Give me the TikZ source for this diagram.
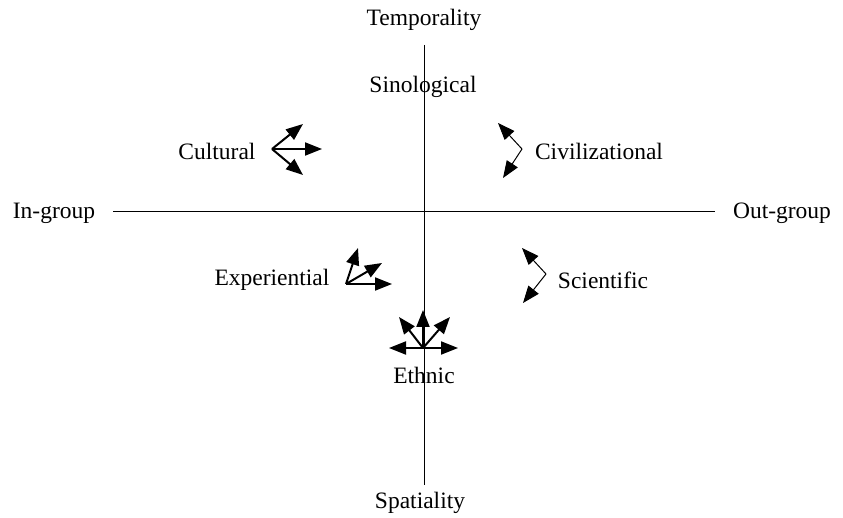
\documentclass[tikz,border=0pt]{standalone}
\usepackage{fontspec}
\setmainfont{Liberation Serif}
\usepackage{tikz}
\usetikzlibrary{arrows.meta}

\begin{document}
\begin{tikzpicture}[
  x=1pt, y=-1pt,
  font=\fontsize{23.5}{27}\selectfont,
  lbl/.style={inner sep=0pt, anchor=center},
  axis/.style={line width=0.9pt},
  vec/.style={-{Triangle[length=17pt,width=13pt]}, line width=2pt},
  thinvec/.style={-{Triangle[length=17pt,width=13pt]}, line width=1pt}
]
\useasboundingbox (0,0) rectangle (843,518);

% axes
\node[lbl] (temp) at (424,20) {Temporality};
\node[lbl] (spat) at (420,503) {Spatiality};
\node[lbl] (ingr) at (54,213) {In-group};
\node[lbl] (outgr) at (782,213) {Out-group};
\coordinate (top) at (424,45);
\coordinate (bot) at (424,485);
\coordinate (lft) at (113,211);
\coordinate (rgt) at (715,211);
\draw[axis] (top) -- (bot);
\draw[axis] (lft) -- (rgt);

% quadrant labels
\node[lbl] (sino) at (423,87) {Sinological};
\node[lbl] (cult) at (217,151) {Cultural};
\node[lbl] (civ) at (599,151) {Civilizational};
\node[lbl] (exper) at (272,280) {Experiential};
\node[lbl] (sci) at (603,280) {Scientific};
\node[lbl] (eth) at (424,375) {Ethnic};

% arrow origins
\coordinate (cultO) at (272,149);
\coordinate (civO) at (522,149);
\coordinate (experO) at (346,284);
\coordinate (ethO) at (423,348);
\coordinate (sciO) at (546,274);

\draw[vec] (cultO) -- ++(31,-25);
\draw[vec] (cultO) -- ++(50,0);
\draw[vec] (cultO) -- ++(31,26);

\draw[thinvec] (civO) -- ++(-24,-26);
\draw[thinvec] (civO) -- ++(-19,29);

\draw[vec] (experO) -- ++(12,-36);
\draw[vec] (experO) -- ++(36,-21);
\draw[vec] (experO) -- ++(46,0);

\draw[vec] (ethO) -- ++(-34,0);
\draw[vec] (ethO) -- ++(35,0);
\draw[vec] (ethO) -- ++(0,-38);
\draw[vec] (ethO) -- ++(-24,-31);
\draw[vec] (ethO) -- ++(27,-31);

\draw[thinvec] (sciO) -- ++(-24,-26);
\draw[thinvec] (sciO) -- ++(-23,29);
\end{tikzpicture}
\end{document}
